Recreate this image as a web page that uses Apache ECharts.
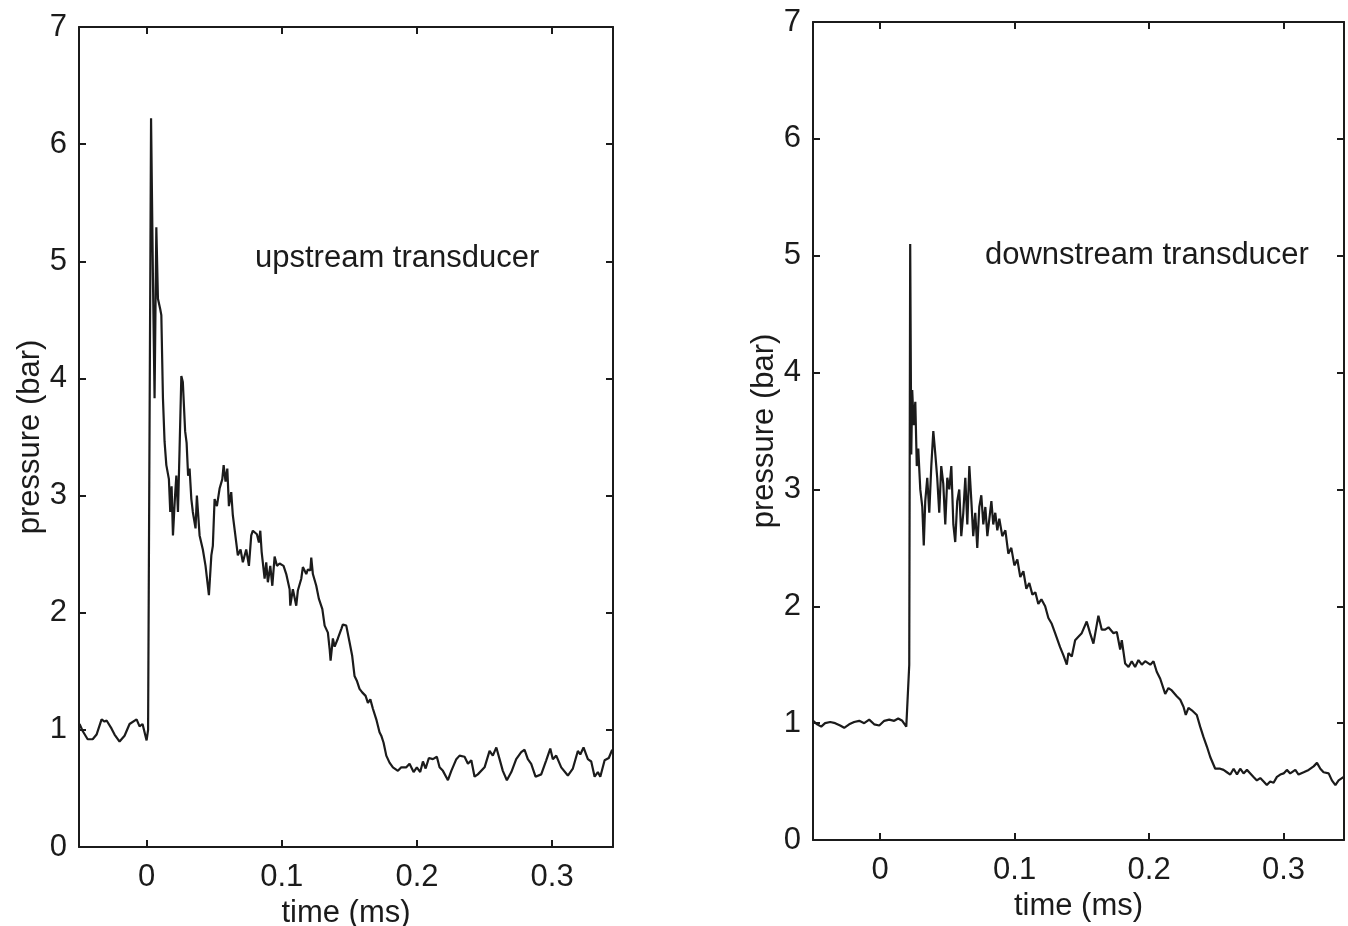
<!DOCTYPE html>
<html>
<head>
<meta charset="utf-8">
<script src="https://cdn.jsdelivr.net/npm/echarts@6/dist/echarts.min.js"></script>
<style>
html,body{margin:0;padding:0;background:#fff;}
#main{width:1348px;height:926px;}
</style>
</head>
<body>
<div id="main"></div>
<script>
// ---- data ----
const xTicks = [0, 0.1, 0.2, 0.3];
const yTicks = [0, 1, 2, 3, 4, 5, 6, 7];
const xRange = [-0.05, 0.345];
const yRange = [0, 7];
const xTitle = 'time (ms)';
const yTitle = 'pressure (bar)';
const labelUp = 'upstream transducer';
const labelDown = 'downstream transducer';

const upstreamTime = [-0.0496,-0.0473,-0.0436,-0.0399,-0.0370,-0.0333,-0.0311,-0.0296,-0.0259,-0.0237,-0.0200,-0.0163,-0.0126,-0.0074,-0.0052,-0.0030,0.0000,0.0011,0.0033,0.0047,0.0059,0.0072,0.0084,0.0101,0.0109,0.0121,0.0133,0.0146,0.0165,0.0175,0.0185,0.0195,0.0209,0.0220,0.0232,0.0244,0.0257,0.0268,0.0285,0.0296,0.0307,0.0318,0.0331,0.0342,0.0362,0.0372,0.0392,0.0416,0.0436,0.0461,0.0479,0.0490,0.0503,0.0520,0.0540,0.0560,0.0570,0.0584,0.0597,0.0609,0.0626,0.0638,0.0663,0.0675,0.0695,0.0712,0.0737,0.0757,0.0774,0.0786,0.0816,0.0831,0.0841,0.0851,0.0873,0.0885,0.0897,0.0915,0.0930,0.0947,0.0964,0.0984,0.1013,0.1033,0.1058,0.1063,0.1082,0.1107,0.1119,0.1144,0.1156,0.1181,0.1193,0.1211,0.1218,0.1230,0.1255,0.1274,0.1300,0.1317,0.1341,0.1354,0.1361,0.1378,0.1391,0.1415,0.1440,0.1452,0.1477,0.1501,0.1521,0.1538,0.1555,0.1575,0.1595,0.1620,0.1637,0.1655,0.1674,0.1699,0.1723,0.1736,0.1753,0.1773,0.1797,0.1822,0.1859,0.1884,0.1921,0.1945,0.1975,0.1999,0.2024,0.2044,0.2064,0.2088,0.2118,0.2147,0.2167,0.2192,0.2229,0.2254,0.2291,0.2315,0.2352,0.2377,0.2402,0.2426,0.2450,0.2500,0.2537,0.2561,0.2587,0.2611,0.2635,0.2665,0.2698,0.2734,0.2771,0.2796,0.2820,0.2845,0.2877,0.2919,0.2956,0.2986,0.3005,0.3030,0.3067,0.3116,0.3153,0.3190,0.3208,0.3232,0.3264,0.3289,0.3314,0.3338,0.3356,0.3388,0.3419,0.3444];
const upstreamPressure = [1.05,0.99,0.92,0.92,0.96,1.09,1.07,1.08,1.01,0.96,0.90,0.95,1.05,1.09,1.03,1.05,0.91,1.00,6.22,4.85,3.83,5.29,4.68,4.59,4.54,3.83,3.46,3.26,3.14,2.86,3.08,2.66,2.97,3.17,2.86,3.40,4.02,3.97,3.55,3.45,3.17,3.23,2.97,2.86,2.72,3.00,2.66,2.54,2.40,2.15,2.49,2.57,2.97,2.91,3.06,3.14,3.26,3.12,3.23,2.91,3.03,2.83,2.60,2.49,2.54,2.43,2.54,2.40,2.66,2.70,2.67,2.60,2.70,2.52,2.29,2.43,2.26,2.40,2.23,2.48,2.40,2.42,2.40,2.33,2.20,2.06,2.20,2.06,2.19,2.29,2.39,2.33,2.37,2.36,2.47,2.33,2.23,2.12,2.03,1.89,1.83,1.69,1.59,1.78,1.71,1.78,1.86,1.90,1.89,1.75,1.63,1.46,1.42,1.35,1.32,1.29,1.23,1.26,1.18,1.09,0.98,0.95,0.89,0.78,0.72,0.68,0.65,0.68,0.68,0.71,0.64,0.68,0.64,0.73,0.67,0.76,0.75,0.77,0.68,0.65,0.57,0.65,0.75,0.78,0.77,0.71,0.74,0.60,0.62,0.68,0.82,0.78,0.85,0.75,0.65,0.57,0.64,0.75,0.81,0.83,0.75,0.71,0.60,0.62,0.74,0.84,0.75,0.78,0.68,0.61,0.67,0.82,0.79,0.85,0.75,0.73,0.60,0.64,0.60,0.74,0.76,0.83];

const downstreamTime = [-0.0499,-0.0469,-0.0439,-0.0410,-0.0372,-0.0335,-0.0298,-0.0268,-0.0231,-0.0194,-0.0156,-0.0119,-0.0082,-0.0045,-0.0007,0.0030,0.0067,0.0104,0.0134,0.0164,0.0194,0.0208,0.0216,0.0223,0.0231,0.0238,0.0249,0.0261,0.0272,0.0283,0.0298,0.0313,0.0324,0.0335,0.0350,0.0365,0.0380,0.0395,0.0410,0.0424,0.0439,0.0454,0.0469,0.0484,0.0499,0.0514,0.0529,0.0544,0.0558,0.0573,0.0588,0.0603,0.0618,0.0633,0.0648,0.0663,0.0678,0.0692,0.0707,0.0722,0.0737,0.0752,0.0767,0.0782,0.0797,0.0812,0.0827,0.0841,0.0856,0.0871,0.0886,0.0908,0.0931,0.0953,0.0975,0.0998,0.1020,0.1042,0.1065,0.1087,0.1109,0.1132,0.1154,0.1176,0.1199,0.1227,0.1251,0.1276,0.1301,0.1338,0.1363,0.1388,0.1400,0.1425,0.1450,0.1474,0.1499,0.1536,0.1561,0.1586,0.1623,0.1648,0.1673,0.1698,0.1735,0.1760,0.1785,0.1797,0.1822,0.1847,0.1871,0.1896,0.1921,0.1946,0.1971,0.2009,0.2033,0.2057,0.2083,0.2120,0.2144,0.2169,0.2206,0.2232,0.2256,0.2273,0.2293,0.2318,0.2355,0.2380,0.2405,0.2430,0.2455,0.2492,0.2529,0.2554,0.2579,0.2604,0.2629,0.2654,0.2678,0.2703,0.2728,0.2753,0.2777,0.2802,0.2827,0.2852,0.2876,0.2901,0.2926,0.2951,0.2976,0.3001,0.3025,0.3050,0.3088,0.3112,0.3150,0.3187,0.3224,0.3249,0.3274,0.3298,0.3336,0.3360,0.3386,0.3410,0.3448];
const downstreamPressure = [1.02,0.99,0.97,1.00,1.01,1.00,0.98,0.96,0.99,1.01,1.02,1.00,1.03,0.99,0.98,1.02,1.03,1.02,1.04,1.02,0.97,0.96,1.50,5.10,3.30,3.85,3.55,3.75,3.20,3.35,3.00,2.85,2.52,2.90,3.10,2.80,3.20,3.50,3.30,3.10,2.80,3.20,3.05,2.70,3.10,3.00,3.20,2.70,2.55,2.90,3.00,2.60,2.80,3.10,2.70,3.20,2.90,2.60,2.80,2.50,2.85,2.95,2.70,2.85,2.60,2.75,2.90,2.70,2.80,2.65,2.75,2.60,2.65,2.45,2.50,2.35,2.40,2.25,2.30,2.15,2.20,2.10,2.12,2.02,2.06,2.00,1.90,1.85,1.77,1.65,1.58,1.50,1.60,1.57,1.71,1.74,1.77,1.87,1.77,1.68,1.92,1.80,1.80,1.82,1.77,1.78,1.63,1.71,1.51,1.48,1.53,1.48,1.54,1.50,1.53,1.50,1.53,1.44,1.38,1.25,1.30,1.28,1.23,1.20,1.14,1.07,1.13,1.11,1.07,0.97,0.88,0.80,0.71,0.61,0.61,0.60,0.58,0.56,0.61,0.56,0.61,0.57,0.60,0.57,0.54,0.51,0.53,0.50,0.47,0.50,0.49,0.54,0.56,0.57,0.60,0.57,0.60,0.56,0.58,0.60,0.63,0.66,0.61,0.58,0.57,0.51,0.47,0.51,0.54];

// ---- chart ----
const FONT = 'Liberation Sans, Arial, Helvetica, sans-serif';
const INK = '#1b1b1b';
const FS = 31;

const grids = [
  {left: 79, top: 27, width: 534, height: 820, outerBoundsMode: 'none', containLabel: false},
  {left: 813, top: 22, width: 531, height: 818, outerBoundsMode: 'none', containLabel: false}
];

function pair(ts, ps) { return ts.map((t, i) => [t, ps[i]]); }

const lineCommon = {show: true, onZero: false, lineStyle: {color: INK, width: 2}};
const xAxes = [], yAxes = [];
grids.forEach((g, gi) => {
  xAxes.push({
    type: 'value', gridIndex: gi, position: 'bottom', min: xRange[0], max: xRange[1],
    name: xTitle, nameLocation: 'middle', nameGap: 48,
    nameTextStyle: {fontFamily: FONT, fontSize: FS, color: INK},
    axisLine: lineCommon,
    axisTick: {show: true, inside: true, length: 7, customValues: xTicks, lineStyle: {color: INK, width: 2}},
    axisLabel: {show: true, customValues: xTicks, margin: 15, fontFamily: FONT, fontSize: FS, color: INK,
      formatter: v => String(Math.round(v * 10) / 10)},
    splitLine: {show: false}
  });
  xAxes.push({
    type: 'value', gridIndex: gi, position: 'top', min: xRange[0], max: xRange[1],
    axisLine: lineCommon,
    axisTick: {show: true, inside: true, length: 7, customValues: xTicks, lineStyle: {color: INK, width: 2}},
    axisLabel: {show: false},
    splitLine: {show: false}
  });
  yAxes.push({
    type: 'value', gridIndex: gi, position: 'left', min: yRange[0], max: yRange[1], interval: 1,
    name: yTitle, nameLocation: 'middle', nameGap: 32, nameRotate: 90,
    nameTextStyle: {fontFamily: FONT, fontSize: FS, color: INK},
    axisLine: lineCommon,
    axisTick: {show: true, inside: true, length: 7, lineStyle: {color: INK, width: 2}},
    axisLabel: {show: true, margin: 12, fontFamily: FONT, fontSize: FS, color: INK},
    splitLine: {show: false}
  });
  yAxes.push({
    type: 'value', gridIndex: gi, position: 'right', min: yRange[0], max: yRange[1], interval: 1,
    axisLine: lineCommon,
    axisTick: {show: true, inside: true, length: 7, lineStyle: {color: INK, width: 2}},
    axisLabel: {show: false},
    splitLine: {show: false}
  });
});

const option = {
  backgroundColor: '#ffffff',
  animation: false,
  grid: grids,
  xAxis: xAxes,
  yAxis: yAxes,
  series: [
    {type: 'line', xAxisIndex: 0, yAxisIndex: 0, data: pair(upstreamTime, upstreamPressure),
      showSymbol: false, lineStyle: {color: INK, width: 2.2}, clip: true},
    {type: 'line', xAxisIndex: 2, yAxisIndex: 2, data: pair(downstreamTime, downstreamPressure),
      showSymbol: false, lineStyle: {color: INK, width: 2.2}, clip: true}
  ],
  graphic: [
    {type: 'text', left: 255, top: 243, style: {text: labelUp, font: FS + 'px ' + FONT, fill: INK}},
    {type: 'text', left: 985, top: 240, style: {text: labelDown, font: FS + 'px ' + FONT, fill: INK}}
  ]
};

const chart = echarts.init(document.getElementById('main'), null, {renderer: 'canvas'});
chart.setOption(option);
</script>
</body>
</html>
